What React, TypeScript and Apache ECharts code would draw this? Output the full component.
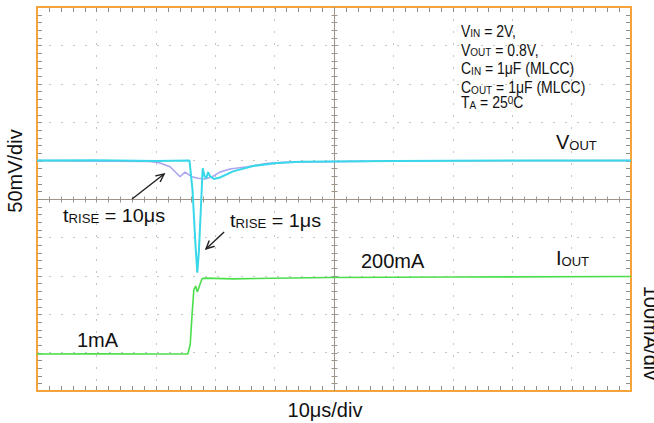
import React, { useEffect, useRef } from "react";
import * as echarts from "echarts";

// Axes (scope graticule: 10 x 10 divisions)
const T_MIN = 0;
const T_MAX = 100;
const T_DIV = 10; // 10 µs/div
const V_MIN = 500;
const V_MAX = 1000;
const V_DIV = 50; // 50 mV/div
const I_MIN = -100;
const I_MAX = 900;
const I_DIV = 100; // 100 mA/div

// VOUT with 1 µs load rise time (t in µs, mV)
const vout1us: [number, number][] = [
  [0, 800], [10, 800.5], [20, 799.5], [25.67, 800], [26.18, 762], [26.68, 690],
  [26.99, 654], [27.27, 684], [27.73, 762], [27.9, 790], [28.2, 780], [28.5, 777],
  [28.8, 785], [29.1, 780], [29.8, 776], [30.8, 778], [33.0, 786], [36.4, 793],
  [40.4, 797], [44.3, 798.5], [60, 799.5], [80, 800], [100, 800],
];

// VOUT with 10 µs load rise time (t in µs, mV)
const vout10us: [number, number][] = [
  [0, 800], [19.0, 799], [20.7, 797], [22.4, 792], [24.1, 779], [24.9, 785],
  [26.1, 779], [27.1, 777], [28.3, 776], [29.5, 779], [30.8, 785], [32.5, 789],
  [35.4, 792], [38.4, 796], [42.6, 798], [60, 799.5], [100, 800],
];

// IOUT (t in µs, mA)
const iout: [number, number][] = [
  [0, -3.6], [10, -3], [20, -3.6], [25.4, -3.6], [25.8, 22.5], [26.1, 98], [26.4, 163],
  [26.7, 173.5], [27.0, 158], [27.4, 176], [27.8, 193], [28.3, 194], [33.0, 192],
  [49.3, 195.6], [70, 197], [100, 198],
];

// Annotation arrows: [tStart, mVStart, tEnd, mVEnd]
const arrows: number[][] = [
  [16.0, 750, 21.4, 782.6],
  [31.5, 707, 28.45, 685],
];

const FONT = '"Liberation Sans", Arial, Helvetica, sans-serif';
const ORANGE = "#F4A43A";
const TEXT = "#111111";

function txt(x: number, y: number, text: string, rich: any, extra: any = {}) {
  return {
    type: "text",
    x,
    y,
    z: 100,
    ...extra,
    style: {
      text,
      rich,
      fill: TEXT,
      fontFamily: FONT,
      fontSize: 20,
      align: extra.align || "left",
      verticalAlign: "middle",
    },
  };
}

function richSet(big: number, small: number) {
  return {
    b: { fontSize: big, fontFamily: FONT, fill: TEXT, verticalAlign: "bottom" },
    s: { fontSize: small, fontFamily: FONT, fill: TEXT, verticalAlign: "bottom" },
    p: { fontSize: small, fontFamily: FONT, fill: TEXT, verticalAlign: "top" },
  };
}

export default function App() {
  const ref = useRef<HTMLDivElement>(null);
  useEffect(() => {
    if (!ref.current) return;
    const chart = echarts.init(ref.current, undefined, { renderer: "svg" });

    const axisLine = { show: true, onZero: false, lineStyle: { color: ORANGE, width: 2 } };
    const dotted = { show: true, lineStyle: { color: "#c4c4c4", width: 1, type: [2, 10] } };
    const noTick = { show: false };

    const big = richSet(20, 13);
    const mid = richSet(18, 12);
    const small = richSet(14, 10);

    const option: any = {
      animation: false,
      grid: { left: 37, top: 7, width: 594, height: 384, show: false },
      xAxis: [
        {
          type: "value", min: T_MIN, max: T_MAX, interval: T_DIV, position: "bottom",
          axisLine, axisTick: noTick, axisLabel: { show: false }, splitLine: dotted,
        },
        {
          type: "value", min: T_MIN, max: T_MAX, interval: T_DIV, position: "top",
          axisLine, axisTick: noTick, axisLabel: { show: false }, splitLine: { show: false },
        },
      ],
      yAxis: [
        {
          type: "value", min: V_MIN, max: V_MAX, interval: V_DIV, position: "left",
          axisLine, axisTick: noTick, axisLabel: { show: false }, splitLine: dotted,
        },
        {
          type: "value", min: I_MIN, max: I_MAX, interval: I_DIV, position: "right",
          axisLine, axisTick: noTick, axisLabel: { show: false }, splitLine: { show: false },
        },
      ],
      series: [
        {
          // graticule: centre cross with minor ticks, and minor ticks along the frame
          type: "custom",
          z: 1,
          silent: true,
          clip: false,
          xAxisIndex: 0,
          yAxisIndex: 0,
          data: [[(T_MIN + T_MAX) / 2, (V_MIN + V_MAX) / 2]],
          renderItem: (params: any, api: any) => {
            const tc = api.value(0);
            const vc = api.value(1);
            const stroke = "#9e9588";
            const tickC = "#8e8e8e";
            const children: any[] = [];
            const px = (v: number) => Math.round(v) + 0.5;
            const [xl0, yc0] = api.coord([T_MIN, vc]);
            const [xr0] = api.coord([T_MAX, vc]);
            const [xc0, yt0] = api.coord([tc, V_MAX]);
            const [, yb0] = api.coord([tc, V_MIN]);
            const xl = xl0, xr = xr0, yt = yt0, yb = yb0;
            const yc = px(yc0), xc = px(xc0);
            const ln = (x1: number, y1: number, x2: number, y2: number, c: string, w: number) => {
              children.push({ type: "line", shape: { x1, y1, x2, y2 }, style: { stroke: c, lineWidth: w } });
            };
            ln(xl, yc, xr, yc, stroke, 1);
            ln(xc, yt, xc, yb, stroke, 1);
            const tStep = T_DIV / 5;
            for (let i = 1; i < (T_MAX - T_MIN) / tStep; i++) {
              const t = T_MIN + i * tStep;
              const x = px(api.coord([t, vc])[0]);
              ln(x, yc - 3, x, yc + 3, stroke, 1);
              ln(x, yt + 1, x, yt + 5, tickC, 1);
              ln(x, yb - 1, x, yb - 5, tickC, 1);
            }
            const vStep = V_DIV / 5;
            for (let i = 1; i < (V_MAX - V_MIN) / vStep; i++) {
              const v = V_MIN + i * vStep;
              const y = px(api.coord([tc, v])[1]);
              ln(xc - 3, y, xc + 3, y, stroke, 1);
              ln(xl + 1, y, xl + 5, y, tickC, 1);
              ln(xr - 1, y, xr - 5, y, tickC, 1);
            }
            return { type: "group", children };
          },
        },
        {
          name: "VOUT 10us", type: "line", data: vout10us, xAxisIndex: 0, yAxisIndex: 0,
          showSymbol: false, symbol: "none", z: 2,
          lineStyle: { color: "#ABA6F2", width: 1.6 }, itemStyle: { color: "#ABA6F2" },
        },
        {
          name: "VOUT 1us", type: "line", data: vout1us, xAxisIndex: 0, yAxisIndex: 0,
          showSymbol: false, symbol: "none", z: 3,
          lineStyle: { color: "#38D8EA", width: 2 }, itemStyle: { color: "#38D8EA" },
        },
        {
          name: "IOUT", type: "line", data: iout, xAxisIndex: 0, yAxisIndex: 1,
          showSymbol: false, symbol: "none", z: 3,
          lineStyle: { color: "#4ADF4A", width: 1.6 }, itemStyle: { color: "#4ADF4A" },
        },
        {
          type: "custom",
          z: 4,
          silent: true,
          xAxisIndex: 0,
          yAxisIndex: 0,
          data: arrows,
          renderItem: (params: any, api: any) => {
            const p1 = api.coord([api.value(0), api.value(1)]);
            const p2 = api.coord([api.value(2), api.value(3)]);
            const ang = Math.atan2(p2[1] - p1[1], p2[0] - p1[0]);
            const len = 9;
            const spread = 0.45;
            const a1 = [p2[0] - len * Math.cos(ang - spread), p2[1] - len * Math.sin(ang - spread)];
            const a2 = [p2[0] - len * Math.cos(ang + spread), p2[1] - len * Math.sin(ang + spread)];
            const style = { stroke: "#222222", lineWidth: 1.4, fill: "none" };
            return {
              type: "group",
              children: [
                { type: "line", shape: { x1: p1[0], y1: p1[1], x2: p2[0], y2: p2[1] }, style },
                { type: "polyline", shape: { points: [a1, p2, a2] }, style },
              ],
            };
          },
        },
      ],
      graphic: [
        txt(556, 142, "{b|V}{s|OUT}", big),
        txt(556, 258, "{b|I}{s|OUT}", big),
        txt(361, 260.5, "{b|200mA}", big),
        txt(77, 340, "{b|1mA}", big),
        txt(63, 216, "{b|t}{s|RISE}{b| = 10μs}", mid, { scaleX: 1.1 }),
        txt(230, 221, "{b|t}{s|RISE}{b| = 1μs}", mid, { scaleX: 1.1 }),
        txt(461, 30.8, "{b|V}{s|IN}{b| = 2V,}", small, { scaleY: 1.17 }),
        txt(461, 49.7, "{b|V}{s|OUT}{b| = 0.8V,}", small, { scaleY: 1.17 }),
        txt(461, 68.5, "{b|C}{s|IN}{b| = 1μF (MLCC)}", small, { scaleY: 1.17 }),
        txt(461, 87, "{b|C}{s|OUT}{b| = 1μF (MLCC)}", small, { scaleY: 1.17 }),
        txt(461, 102.5, "{b|T}{s|A}{b| = 25}{p|0}{b|C}", small, { scaleY: 1.17 }),
        txt(325, 410, "{b|10μs/div}", big, { align: "center" }),
        txt(15, 171, "{b|50mV/div}", big, { align: "center", rotation: Math.PI / 2 }),
        txt(651, 333, "{b|100mA/div}", big, { align: "center", rotation: -Math.PI / 2 }),
      ],
    };
    chart.setOption(option);
    return () => chart.dispose();
  }, []);
  return (
    <div
      ref={ref}
      style={{ position: "absolute", left: 0, top: 0, width: 654, height: 423 }}
    />
  );
}
